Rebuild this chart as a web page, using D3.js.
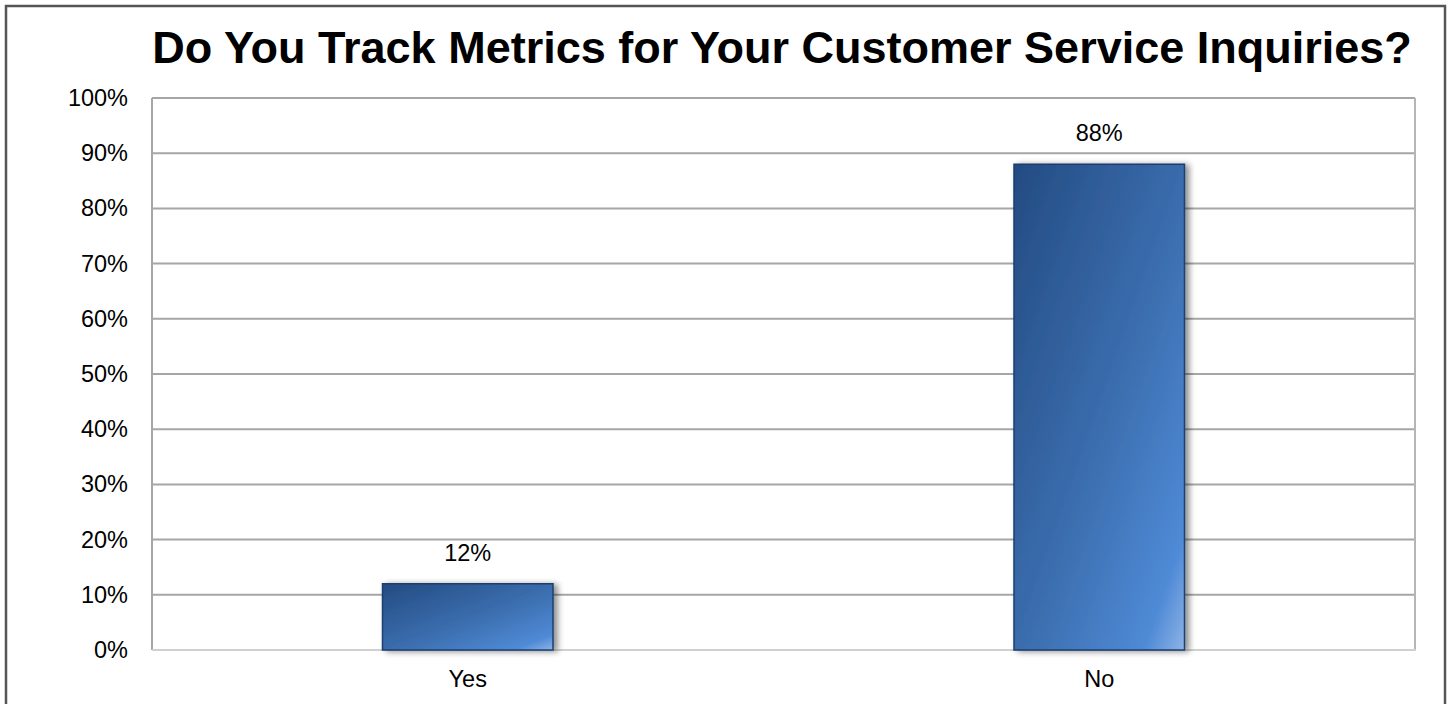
<!DOCTYPE html>
<html>
<head>
<meta charset="utf-8">
<script src="https://cdn.jsdelivr.net/npm/d3@7"></script>
<style>
  html, body { margin: 0; padding: 0; background: #fff; }
  svg { display: block; font-family: "Liberation Sans", Arial, Helvetica, sans-serif; }
</style>
</head>
<body>
<svg id="chart" width="1455" height="704"></svg>
<script>
// Survey answers and their share of respondents (percent)
const categories = ["Yes", "No"];
const values = [12, 88];
const tickValues = [0, 10, 20, 30, 40, 50, 60, 70, 80, 90, 100];
const titleText = "Do You Track Metrics for Your Customer Service Inquiries?";

const svg = d3.select("#chart");
const W = 1455, H = 704;
const plot = { left: 152, top: 98, right: 1415, bottom: 650 };
const labelFont = 23.5;

// Outer frame
svg.append("rect")
  .attr("x", 6).attr("y", 6)
  .attr("width", 1439).attr("height", H + 10)
  .attr("fill", "#fff")
  .attr("stroke", "#555").attr("stroke-width", 2.5);

const defs = svg.append("defs");
const grad = defs.append("linearGradient")
  .attr("id", "barFill")
  .attr("x1", "0").attr("y1", "0").attr("x2", "1").attr("y2", "1");
grad.append("stop").attr("offset", "0%").attr("stop-color", "#234b82");
grad.append("stop").attr("offset", "55%").attr("stop-color", "#3c6fb0");
grad.append("stop").attr("offset", "88%").attr("stop-color", "#4f8ad6");
grad.append("stop").attr("offset", "100%").attr("stop-color", "#8db3e6");

const shadow = defs.append("filter").attr("id", "barShadow")
  .attr("x", "-10%").attr("y", "-10%").attr("width", "130%").attr("height", "130%");
shadow.append("feGaussianBlur").attr("in", "SourceAlpha").attr("stdDeviation", 3);
shadow.append("feOffset").attr("dx", 4).attr("dy", 1).attr("result", "ob");
shadow.append("feComponentTransfer").append("feFuncA").attr("type", "linear").attr("slope", 0.45);
const merge = shadow.append("feMerge");
merge.append("feMergeNode");
merge.append("feMergeNode").attr("in", "SourceGraphic");

const x = d3.scaleBand().domain(categories)
  .range([plot.left, plot.right]).paddingInner(0).paddingOuter(0);
const y = d3.scaleLinear().domain([0, 100]).range([plot.bottom, plot.top]);

// Gridlines
svg.append("g")
  .selectAll("line")
  .data(tickValues.filter(d => d > 0))
  .join("line")
  .attr("x1", plot.left).attr("x2", plot.right)
  .attr("y1", d => y(d)).attr("y2", d => y(d))
  .attr("stroke", "#a6a6a6").attr("stroke-width", 2);

// Plot side borders
svg.append("line").attr("x1", plot.left).attr("x2", plot.left)
  .attr("y1", plot.top).attr("y2", plot.bottom)
  .attr("stroke", "#a6a6a6").attr("stroke-width", 2);
svg.append("line").attr("x1", plot.right).attr("x2", plot.right)
  .attr("y1", plot.top).attr("y2", plot.bottom)
  .attr("stroke", "#b5b5b5").attr("stroke-width", 2);
// Baseline
svg.append("line").attr("x1", plot.left).attr("x2", plot.right + 1)
  .attr("y1", y(0)).attr("y2", y(0))
  .attr("stroke", "#d0d0d0").attr("stroke-width", 2);

// Y axis labels
const yAxis = d3.axisLeft(y).tickValues(tickValues).tickFormat(d => d + "%").tickSize(0).tickPadding(24);
const gy = svg.append("g").attr("transform", `translate(${plot.left},0)`).call(yAxis);
gy.select(".domain").remove();
gy.selectAll("text").attr("font-size", labelFont).attr("fill", "#000")
  .attr("font-family", "'Liberation Sans', Arial, sans-serif");

// X axis labels
const xAxis = d3.axisBottom(x).tickSize(0).tickPadding(20);
const gx = svg.append("g").attr("transform", `translate(0,${plot.bottom})`).call(xAxis);
gx.select(".domain").remove();
gx.selectAll("text").attr("font-size", labelFont).attr("fill", "#000")
  .attr("font-family", "'Liberation Sans', Arial, sans-serif");

// Bars
const barW = x.bandwidth() * 0.27;
const bars = svg.append("g");
bars.selectAll("rect")
  .data(categories.map((c, i) => ({ c, v: values[i] })))
  .join("rect")
  .attr("x", d => x(d.c) + (x.bandwidth() - barW) / 2)
  .attr("y", d => y(d.v))
  .attr("width", barW)
  .attr("height", d => y(0) - y(d.v))
  .attr("fill", "url(#barFill)")
  .attr("stroke", "#1e3f70").attr("stroke-width", 1.5)
  .attr("filter", "url(#barShadow)");

// Value labels
svg.append("g").selectAll("text")
  .data(categories.map((c, i) => ({ c, v: values[i] })))
  .join("text")
  .attr("x", d => x(d.c) + x.bandwidth() / 2)
  .attr("y", d => y(d.v) - 23)
  .attr("text-anchor", "middle")
  .attr("font-size", labelFont)
  .attr("fill", "#000")
  .text(d => d.v + "%");

// Title
svg.append("text")
  .attr("x", 782).attr("y", 63)
  .attr("text-anchor", "middle")
  .attr("font-size", 45).attr("font-weight", "bold")
  .attr("fill", "#000")
  .text(titleText);
</script>
</body>
</html>
